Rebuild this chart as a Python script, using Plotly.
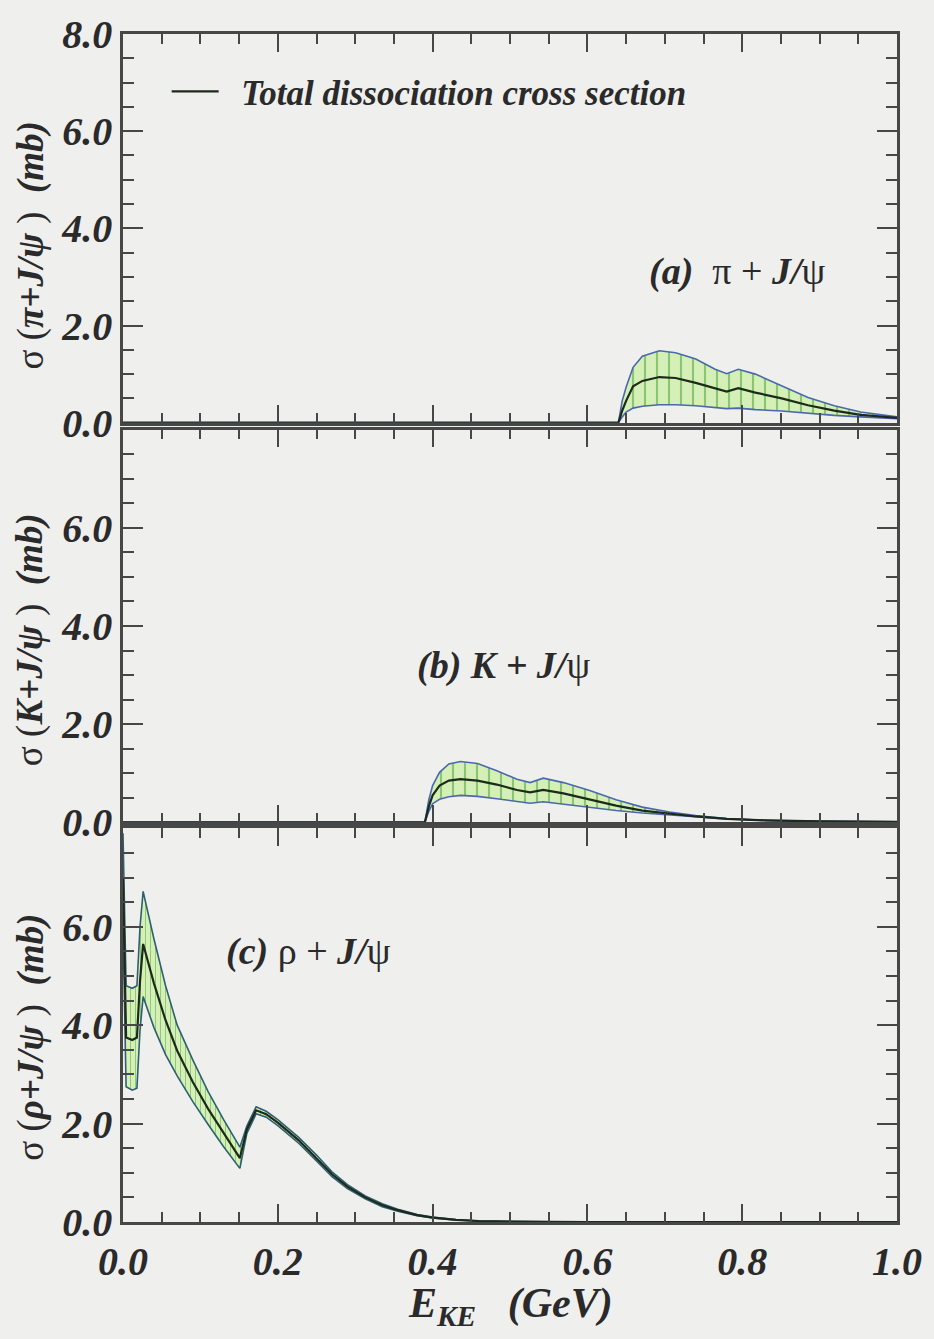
import plotly.graph_objects as go

# ---------------- data ----------------
# (a) pi + J/psi
a_x     = [0.0, 0.640, 0.645, 0.650, 0.659, 0.671, 0.693, 0.714, 0.740, 0.765, 0.780, 0.795, 0.817, 0.851, 0.885, 0.919, 0.953, 1.0]
a_upper = [0.0, 0.0,   0.45,  0.73,  1.14,  1.37,  1.48,  1.44,  1.31,  1.10,  1.01,  1.10,  1.00,  0.76,  0.52,  0.35,  0.22,  0.12]
a_mid   = [0.0, 0.0,   0.25,  0.45,  0.75,  0.86,  0.94,  0.92,  0.82,  0.71,  0.64,  0.71,  0.62,  0.50,  0.36,  0.25,  0.16,  0.10]
a_lower = [0.0, 0.0,   0.12,  0.22,  0.30,  0.34,  0.37,  0.37,  0.35,  0.32,  0.29,  0.30,  0.27,  0.24,  0.19,  0.15,  0.12,  0.08]

# (b) K + J/psi
b_x     = [0.0, 0.390, 0.395, 0.400, 0.409, 0.421, 0.436, 0.458, 0.483, 0.509, 0.526, 0.543, 0.569, 0.603, 0.637, 0.671, 0.706, 0.740, 0.78, 0.83, 0.90, 1.0]
b_upper = [0.0, 0.0,   0.45,  0.75,  1.02,  1.19,  1.24,  1.20,  1.05,  0.88,  0.81,  0.90,  0.81,  0.65,  0.46,  0.31,  0.21,  0.14,  0.08, 0.04, 0.02, 0.01]
b_mid   = [0.0, 0.0,   0.32,  0.55,  0.75,  0.85,  0.88,  0.85,  0.77,  0.66,  0.61,  0.66,  0.59,  0.46,  0.34,  0.24,  0.18,  0.12,  0.07, 0.04, 0.02, 0.01]
b_lower = [0.0, 0.0,   0.22,  0.38,  0.47,  0.52,  0.55,  0.53,  0.48,  0.42,  0.39,  0.42,  0.37,  0.30,  0.24,  0.19,  0.15,  0.11,  0.07, 0.04, 0.02, 0.01]

# (c) rho + J/psi
c_x     = [0.0, 0.004, 0.012, 0.018, 0.022, 0.026, 0.040, 0.055, 0.070, 0.090, 0.110, 0.130, 0.151, 0.160, 0.172, 0.185, 0.200, 0.227, 0.250, 0.270, 0.290, 0.313, 0.335, 0.355, 0.380, 0.400, 0.430, 0.460, 0.500, 0.600, 1.0]
c_upper = [7.9, 4.80,  4.75,  4.80,  6.00,  6.72,  5.75,  4.80,  4.00,  3.30,  2.65,  2.08,  1.52,  1.95,  2.34,  2.25,  2.08,  1.72,  1.36,  1.02,  0.76,  0.53,  0.37,  0.26,  0.15,  0.10,  0.05,  0.02,  0.01,  0.0,   0.0]
c_mid   = [7.0, 3.75,  3.70,  3.75,  4.90,  5.65,  4.85,  4.10,  3.48,  2.85,  2.30,  1.80,  1.30,  1.88,  2.27,  2.19,  2.02,  1.66,  1.30,  0.97,  0.72,  0.50,  0.34,  0.24,  0.14,  0.09,  0.045, 0.02,  0.01,  0.0,   0.0]
c_lower = [6.0, 2.75,  2.68,  2.72,  3.90,  4.58,  3.95,  3.40,  2.97,  2.45,  1.98,  1.53,  1.09,  1.80,  2.20,  2.13,  1.96,  1.60,  1.24,  0.92,  0.68,  0.47,  0.31,  0.22,  0.13,  0.08,  0.04,  0.02,  0.01,  0.0,   0.0]

x_tickvals = [0.0, 0.2, 0.4, 0.6, 0.8, 1.0]
x_ticktext = ["0.0", "0.2", "0.4", "0.6", "0.8", "1.0"]
y_tickvals_top = [0, 2, 4, 6, 8]
y_ticktext_top = ["0.0", "2.0", "4.0", "6.0", "8.0"]
y_tickvals_low = [0, 2, 4, 6]
y_ticktext_low = ["0.0", "2.0", "4.0", "6.0"]

# ---------------- styling ----------------
FONT = "Liberation Serif"
BG = "#efefed"
FRAME = "#474747"
TXT = "#2a2a2a"
MIDC = "#1c2a1c"
FILL_BG = "#d5f0b6"
FILL_FG = "#3d9a2e"

fig = go.Figure()

panels = [
    ("x3", "y3", a_x, a_lower, a_upper, a_mid, "#4a68ae", 12),
    ("x2", "y2", b_x, b_lower, b_upper, b_mid, "#4a68ae", 12),
    ("x",  "y",  c_x, c_lower, c_upper, c_mid, "#2e5f72", 5),
]
for i, (xa, ya, xs, lo, up, mi, edge, psize) in enumerate(panels):
    fig.add_trace(go.Scatter(x=xs, y=lo, xaxis=xa, yaxis=ya, mode="lines",
                             line=dict(color=edge, width=1.6), showlegend=False, hoverinfo="skip"))
    fig.add_trace(go.Scatter(x=xs, y=up, xaxis=xa, yaxis=ya, mode="lines",
                             line=dict(color=edge, width=1.6), fill="tonexty",
                             fillcolor=FILL_BG,
                             fillpattern=dict(shape="|", bgcolor=FILL_BG, fgcolor=FILL_FG,
                                              size=psize, solidity=0.18),
                             showlegend=False, hoverinfo="skip"))
    fig.add_trace(go.Scatter(x=xs, y=mi, xaxis=xa, yaxis=ya, mode="lines",
                             line=dict(color=MIDC, width=2.2),
                             name="\u00a0\u00a0Total dissociation cross section",
                             showlegend=(i == 0)))

H_TOP, H_BOT = 27, 1222
def py(Y):
    return (H_BOT - Y) / (H_BOT - H_TOP)
def px(X):
    return (X - 123) / 780

tickfont = dict(family=FONT, size=40, weight="bold", style="italic", color=TXT)
common_x = dict(range=[0, 1], tickvals=x_tickvals, ticktext=x_ticktext,
                ticks="inside", ticklen=18, tickwidth=2, tickcolor=FRAME,
                minor=dict(dtick=0.05, tick0=0, ticks="inside", ticklen=10, tickwidth=2, tickcolor=FRAME),
                showline=True, linecolor=FRAME, linewidth=2.5, mirror="ticks",
                showgrid=False, zeroline=False, tickfont=tickfont)
common_y = dict(range=[0, 8],
                ticks="inside", ticklen=20, tickwidth=2, tickcolor=FRAME,
                minor=dict(dtick=0.5, tick0=0, ticks="inside", ticklen=11, tickwidth=2, tickcolor=FRAME),
                showline=True, linecolor=FRAME, linewidth=2.5, mirror="ticks",
                showgrid=False, zeroline=False, tickfont=tickfont)

fig.update_layout(
    width=934, height=1339,
    margin=dict(l=123, r=31, t=27, b=117, pad=0),
    paper_bgcolor=BG, plot_bgcolor=BG,
    font=dict(family=FONT, color=TXT),
    xaxis=dict(common_x, domain=[0, 1], anchor="y", ticklabelstandoff=2),
    xaxis2=dict(common_x, domain=[0, 1], anchor="y2", matches="x", showticklabels=False),
    xaxis3=dict(common_x, domain=[0, 1], anchor="y3", matches="x", showticklabels=False),
    yaxis=dict(common_y, domain=[0, py(826)], anchor="x",
               tickvals=y_tickvals_low, ticktext=y_ticktext_low),
    yaxis2=dict(common_y, domain=[py(820), py(425)], anchor="x2",
                tickvals=y_tickvals_low, ticktext=y_ticktext_low),
    yaxis3=dict(common_y, domain=[py(418), 1.0], anchor="x3",
                tickvals=y_tickvals_top, ticktext=y_ticktext_top),
    legend=dict(x=px(167), y=py(85), xanchor="left", yanchor="middle",
                bgcolor="rgba(0,0,0,0)", borderwidth=0, itemwidth=47,
                font=dict(family=FONT, size=35, weight="bold", style="italic", color=TXT)),
    showlegend=True,
)

ann_font = dict(family=FONT, size=38, color=TXT)
title_font = dict(family=FONT, size=37, color=TXT)
annotations = [
    dict(text="<b><i>(a)</i></b>  π + <b><i>J/</i></b>ψ", x=px(742), y=py(266)),
    dict(text="<b><i>(b) K + J/</i></b>ψ", x=px(506), y=py(662)),
    dict(text="<b><i>(c)</i></b> ρ + <b><i>J/</i></b>ψ", x=px(310), y=py(950)),
]
for a in annotations:
    fig.add_annotation(xref="paper", yref="paper", showarrow=False,
                       xanchor="center", yanchor="middle", font=ann_font, **a)

ytitles = [
    ("σ (<b><i>π+J/ψ</i></b> )  <b><i>(mb)</i></b>", 240),
    ("σ (<b><i>K+J/ψ</i></b> )  <b><i>(mb)</i></b>", 636),
    ("σ (<b><i>ρ+J/ψ</i></b> )  <b><i>(mb)</i></b>", 1036),
]
for t, Yc in ytitles:
    fig.add_annotation(xref="paper", yref="paper", showarrow=False, textangle=-90,
                       x=px(30), y=py(Yc), xanchor="center", yanchor="middle",
                       text=t, font=title_font)

fig.add_annotation(xref="paper", yref="paper", showarrow=False,
                   x=px(514), y=py(1306), xanchor="center", yanchor="middle",
                   text="<b><i>E<sub>KE</sub>   (GeV)</i></b>",
                   font=dict(family=FONT, size=42, color=TXT))

fig.write_html("out.html", config={"displayModeBar": False},
               post_script="document.body.style.margin='0';")
